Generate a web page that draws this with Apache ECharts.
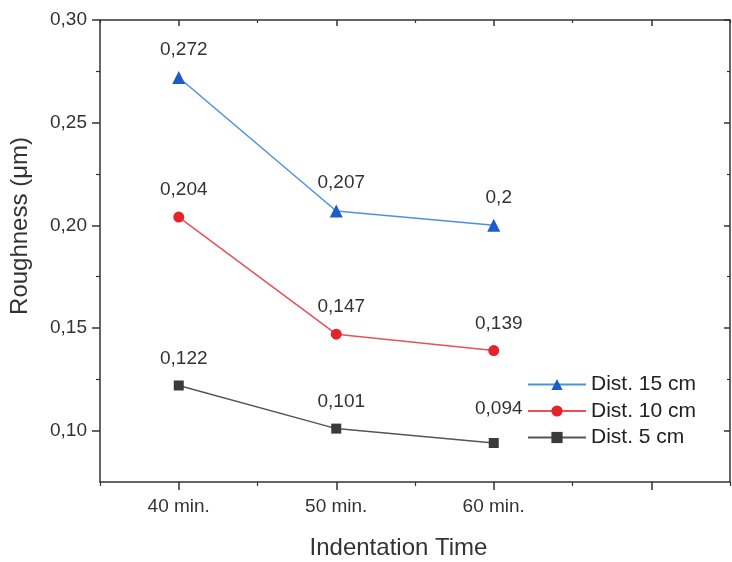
<!DOCTYPE html>
<html>
<head>
<meta charset="utf-8">
<script src="https://cdn.jsdelivr.net/npm/echarts@6/dist/echarts.min.js"></script>
<style>html,body{margin:0;padding:0;background:#fff}#c{width:732px;height:562px}</style>
</head>
<body>
<div id="c"></div>
<script>
var categories = ['40 min.', '50 min.', '60 min.', ''];
var dist15 = [0.272, 0.207, 0.2];
var dist10 = [0.204, 0.147, 0.139];
var dist5 = [0.122, 0.101, 0.094];
var yMajorTicks = [0.10, 0.15, 0.20, 0.25, 0.30];
var yMinorTicks = [0.125, 0.175, 0.225, 0.275];

var font = 'Liberation Sans, Arial, sans-serif';
var axisColor = '#333';
function fmt(v) { return String(v).replace('.', ','); }

var chart = echarts.init(document.getElementById('c'));
var yBase = { type: 'value', min: 0.075, max: 0.30, gridIndex: 0, splitLine: { show: false } };
function mkSeries(name, data, color, lineColor, symbol, size, raiseIdx) {
  var d = data.map(function (v, i) {
    return i === raiseIdx ? { value: v, label: { offset: [5, -8] } } : v;
  });
  return {
    name: name, type: 'line', data: d, symbol: symbol, symbolSize: size,
    xAxisIndex: 0, yAxisIndex: 0,
    itemStyle: { color: color },
    lineStyle: { color: lineColor, width: 1.5 },
    label: { show: true, position: 'top', distance: 12, offset: [5, 0], formatter: function (p) { return fmt(p.value); },
      fontFamily: font, fontSize: 19, color: '#333' }
  };
}
chart.setOption({
  animation: false,
  backgroundColor: '#fff',
  grid: { left: 100, right: 2, top: 20, bottom: 80, containLabel: false, outerBoundsMode: 'none' },
  legend: {
    data: ['Dist. 15 cm', 'Dist. 10 cm', 'Dist. 5 cm'],
    orient: 'vertical', left: 522, top: 369, itemWidth: 58, itemHeight: 14, itemGap: 5.5,
    textStyle: { fontFamily: font, fontSize: 21, color: '#222' }
  },
  xAxis: [
    { type: 'category', data: categories, position: 'bottom', boundaryGap: true,
      axisLine: { show: true, lineStyle: { color: axisColor, width: 1.5 } },
      axisTick: { show: true, alignWithLabel: true, inside: false, length: 8, lineStyle: { color: axisColor, width: 1.5 } },
      axisLabel: { fontFamily: font, fontSize: 19, color: '#333', margin: 15 },
      name: 'Indentation Time', nameLocation: 'middle', nameGap: 54,
      nameTextStyle: { fontFamily: font, fontSize: 24, color: '#333', padding: [0, 33, 0, 0] } },
    { type: 'category', data: categories, position: 'bottom', boundaryGap: true,
      axisLine: { show: false }, axisLabel: { show: false },
      axisTick: { show: true, alignWithLabel: false, length: 4, lineStyle: { color: axisColor, width: 1.2 } } },
    { type: 'category', data: categories, position: 'top', boundaryGap: true,
      axisLine: { show: true, lineStyle: { color: axisColor, width: 1.5 } }, axisLabel: { show: false },
      axisTick: { show: true, alignWithLabel: true, inside: true, length: 6, lineStyle: { color: axisColor, width: 1.5 } } },
    { type: 'category', data: categories, position: 'top', boundaryGap: true,
      axisLine: { show: false }, axisLabel: { show: false },
      axisTick: { show: true, alignWithLabel: false, inside: true, length: 3, lineStyle: { color: axisColor, width: 1.2 } } }
  ],
  yAxis: [
    Object.assign({}, yBase, { position: 'left',
      axisLine: { show: true, lineStyle: { color: axisColor, width: 1.5 } },
      axisTick: { show: true, customValues: yMajorTicks, length: 8, lineStyle: { color: axisColor, width: 1.5 } },
      axisLabel: { customValues: yMajorTicks, fontFamily: font, fontSize: 19, color: '#333', margin: 13,
        formatter: function (v) { return v.toFixed(2).replace('.', ','); } },
      name: 'Roughness (μm)', nameLocation: 'middle', nameGap: 68,
      nameTextStyle: { fontFamily: font, fontSize: 24, color: '#333', padding: [0, 0, 0, 50] } }),
    Object.assign({}, yBase, { position: 'left', axisLine: { show: false }, axisLabel: { show: false },
      axisTick: { show: true, customValues: yMinorTicks, length: 4, lineStyle: { color: axisColor, width: 1.2 } } }),
    Object.assign({}, yBase, { position: 'right',
      axisLine: { show: true, lineStyle: { color: axisColor, width: 1.5 } }, axisLabel: { show: false },
      axisTick: { show: true, inside: true, customValues: yMajorTicks, length: 6, lineStyle: { color: axisColor, width: 1.5 } } }),
    Object.assign({}, yBase, { position: 'right', axisLine: { show: false }, axisLabel: { show: false },
      axisTick: { show: true, inside: true, customValues: yMinorTicks, length: 3, lineStyle: { color: axisColor, width: 1.2 } } })
  ],
  series: [
    mkSeries('Dist. 15 cm', dist15, '#1d5cc8', '#4a93e0', 'triangle', 13, -1),
    mkSeries('Dist. 10 cm', dist10, '#e5232b', '#e8505a', 'circle', 11, -1),
    mkSeries('Dist. 5 cm', dist5, '#3a3a3a', '#555555', 'rect', 10, 2)
  ]
});
</script>
</body>
</html>
